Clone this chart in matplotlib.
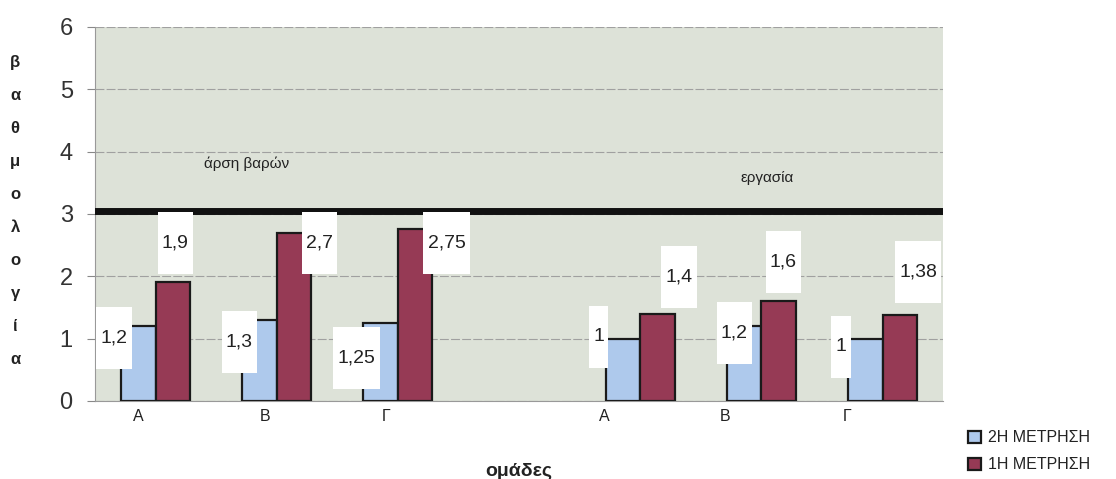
import matplotlib.pyplot as plt
from matplotlib.path import Path
from matplotlib.transforms import Affine2D
import numpy as np

plt.rcParams['font.family'] = ['Liberation Sans', 'DejaVu Sans']

# data
groups = ["άρση βαρών", "εργασία"]
categories = ["Α", "Β", "Γ", "Α", "Β", "Γ"]
second_meas = [1.2, 1.3, 1.25, 1.0, 1.2, 1.0]    # 2Η ΜΕΤΡΗΣΗ
first_meas = [1.9, 2.7, 2.75, 1.4, 1.6, 1.38]    # 1Η ΜΕΤΡΗΣΗ
second_text = ["1,2", "1,3", "1,25", "1", "1,2", "1"]
first_text = ["1,9", "2,7", "2,75", "1,4", "1,6", "1,38"]
threshold = 3.05

# label placement (offsets from bar centre, data units) as Excel left them
blue_lbl_dx = [-0.20, -0.165, -0.20, -0.20, -0.08, -0.20]
blue_lbl_y = [1.01, 0.95, 0.69, 1.03, 1.09, 0.87]
red_lbl_dx = [0.02, 0.21, 0.26, 0.18, 0.04, 0.15]
red_lbl_y = [2.53, 2.53, 2.53, 1.99, 2.23, 2.07]

blue = "#aec9ec"
maroon = "#963a55"
bg = "#dde2d8"


def tall_box(x0, y0, width, height, mutation_size):
    # white label box, much taller than wide (like the excel data labels)
    px = 0.22 * mutation_size
    py = 1.15 * mutation_size
    return Path.unit_rectangle().transformed(
        Affine2D().scale(width + 2 * px, height + 2 * py).translate(x0 - px, y0 - py))


fig = plt.figure(figsize=(11.16, 4.79), dpi=100, facecolor="white")
ax = fig.add_axes([0.0851, 0.163, 0.760, 0.781])
ax.set_facecolor(bg)

x = np.array([0, 1, 2, 4, 5, 6], dtype=float)
w = 0.285
ax.bar(x - w / 2, second_meas, w, color=blue, edgecolor="#1a1a1a", linewidth=1.6, zorder=3,
       label="2Η ΜΕΤΡΗΣΗ")
ax.bar(x + w / 2, first_meas, w, color=maroon, edgecolor="#1a1a1a", linewidth=1.6, zorder=3,
       label="1Η ΜΕΤΡΗΣΗ")

ax.axhline(threshold, color="#111111", linewidth=5, zorder=4)

lbl_font = dict(fontsize=14, color="#222222", zorder=5, ha="center", va="center",
                bbox=dict(boxstyle=tall_box, fc="white", ec="none"))
for i in range(len(x)):
    ax.text(x[i] - w / 2 + blue_lbl_dx[i], blue_lbl_y[i], second_text[i], **lbl_font)
    ax.text(x[i] + w / 2 + red_lbl_dx[i], red_lbl_y[i], first_text[i], **lbl_font)

ax.text(0.75, 3.8, groups[0], ha="center", va="center", fontsize=11, color="#222222")
ax.text(5.05, 3.58, groups[1], ha="center", va="center", fontsize=11, color="#222222")

ax.set_xlim(-0.5, 6.5)
ax.set_ylim(0, 6)
ax.set_yticks(range(0, 7))
ax.tick_params(axis="y", labelsize=17, labelcolor="#333333", color="#888888", length=6, pad=10)
ax.set_xticks(x - np.array([0.14, 0.1, 0.1, 0.3, 0.3, 0.29]))
ax.set_xticklabels(categories, fontsize=11.5, color="#222222")
ax.tick_params(axis="x", length=0, pad=6)
ax.yaxis.grid(True, color="#a0a0a0", linewidth=0.8, linestyle=(0, (8, 2)), zorder=1)
ax.set_axisbelow(True)

for s in ["top", "right"]:
    ax.spines[s].set_visible(False)
ax.spines["left"].set_color("#999999")
ax.spines["bottom"].set_color("#999999")

ax.set_xlabel("ομάδες", fontsize=14, fontweight="bold", color="#222222", labelpad=28)
fig.text(0.0135, 0.885, "\n".join("βαθμολογία"), ha="center", va="top", fontsize=12,
         fontweight="bold", color="#222222", linespacing=2.5)

fig.legend(loc="upper left", bbox_to_anchor=(0.862, 0.115), frameon=False, fontsize=11.5,
           handlelength=0.8, handleheight=0.8, handletextpad=0.4, labelspacing=0.75,
           borderaxespad=0, labelcolor="#222222")

fig.savefig("out.png", dpi=100, facecolor="white")
